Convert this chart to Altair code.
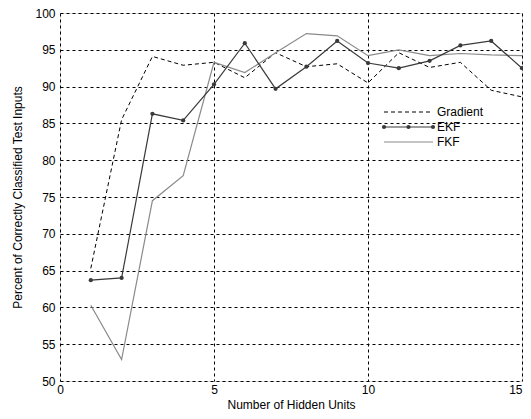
import altair as alt
import pandas as pd

hidden_units = list(range(1, 16))
gradient = [65.3, 85.5, 94.1, 92.9, 93.3, 91.2, 94.6, 92.7, 93.1, 90.5, 94.6, 92.6, 93.3, 89.5, 88.6]
ekf = [63.7, 64.0, 86.3, 85.4, 90.3, 95.9, 89.7, 92.7, 96.2, 93.2, 92.5, 93.5, 95.6, 96.2, 92.5]
fkf = [60.3, 52.9, 74.5, 77.9, 93.3, 91.9, 94.6, 97.2, 96.9, 94.2, 95.0, 94.2, 94.5, 94.3, 94.2]
series_names = ["Gradient", "EKF", "FKF"]
x_ticks = [0, 5, 10, 15]
y_ticks = [50, 55, 60, 65, 70, 75, 80, 85, 90, 95, 100]

rows = []
for name, vals in zip(series_names, [gradient, ekf, fkf]):
    for x, v in zip(hidden_units, vals):
        rows.append({"units": x, "pct": v, "series": name})
df = pd.DataFrame(rows)

FONT = "Liberation Sans"
W, H = 462, 368

xenc = alt.X("units:Q", scale=alt.Scale(domain=[0, 15], nice=False),
             axis=alt.Axis(values=x_ticks, title="Number of Hidden Units", grid=True,
                           gridColor="black", gridDash=[3, 3], gridOpacity=1,
                           ticks=False, domain=False, labelPadding=3, titlePadding=4,
                           labelFont=FONT, titleFont=FONT, labelFontSize=12, titleFontSize=12,
                           titleFontWeight="normal", labelColor="black", titleColor="black",
                           labelFlush=False,
                           labelAlign=alt.ExprRef(expr="datum.value == 15 ? 'right' : 'center'")))
yenc = alt.Y("pct:Q", scale=alt.Scale(domain=[50, 100], nice=False),
             axis=alt.Axis(values=y_ticks, title="Percent of Correctly Classified Test Inputs",
                           grid=True, gridColor="black", gridDash=[3, 3], gridOpacity=1,
                           ticks=False, domain=False, labelPadding=5, titlePadding=10,
                           labelFont=FONT, titleFont=FONT, labelFontSize=12, titleFontSize=12,
                           titleFontWeight="normal", labelColor="black", titleColor="black",
                           labelFlush=False))

base = alt.Chart(df)

grad_line = base.transform_filter(alt.datum.series == "Gradient").mark_line(
    color="black", strokeWidth=1, strokeDash=[4, 3]).encode(x=xenc, y=yenc)
ekf_line = base.transform_filter(alt.datum.series == "EKF").mark_line(
    color="#3a3a3a", strokeWidth=1.2).encode(x=xenc, y=yenc)
ekf_pts = base.transform_filter(alt.datum.series == "EKF").mark_point(
    filled=True, color="#3a3a3a", size=18, opacity=1).encode(x=xenc, y=yenc)
fkf_line = base.transform_filter(alt.datum.series == "FKF").mark_line(
    color="#8a8a8a", strokeWidth=1.2).encode(x=xenc, y=yenc)

# legend (decorative)
lx1, lx2, ltx = 324, 373, 377
ly = [99, 114, 129]
leg = []
leg.append(alt.Chart(pd.DataFrame({"a": [0]})).mark_rule(color="black", strokeWidth=1, strokeDash=[4, 3]).encode(
    x=alt.value(lx1), x2=alt.value(lx2), y=alt.value(ly[0])))
leg.append(alt.Chart(pd.DataFrame({"a": [0]})).mark_rule(color="#3a3a3a", strokeWidth=1.2).encode(
    x=alt.value(lx1), x2=alt.value(lx2), y=alt.value(ly[1])))
leg.append(alt.Chart(pd.DataFrame({"px": [lx1, (lx1 + lx2) / 2, lx2]})).mark_point(
    filled=True, color="#3a3a3a", size=18, opacity=1).encode(
    x=alt.X("px:Q", scale=None), y=alt.value(ly[1])))
leg.append(alt.Chart(pd.DataFrame({"a": [0]})).mark_rule(color="#8a8a8a", strokeWidth=1.2).encode(
    x=alt.value(lx1), x2=alt.value(lx2), y=alt.value(ly[2])))
for name, yy in zip(series_names, ly):
    leg.append(alt.Chart(pd.DataFrame({"t": [name]})).mark_text(
        align="left", baseline="middle", font=FONT, fontSize=12, color="black").encode(
        x=alt.value(ltx), y=alt.value(yy), text="t:N"))

chart = alt.layer(grad_line, fkf_line, ekf_line, ekf_pts, *leg).properties(
    width=W, height=H,
    autosize=alt.AutoSizeParams(type="none"),
    padding={"left": 52, "top": 5, "right": 1, "bottom": 30},
).configure_view(stroke="black", strokeWidth=1).configure(background="white")

chart.save("out.html", embed_options={"renderer": "svg", "actions": False})
